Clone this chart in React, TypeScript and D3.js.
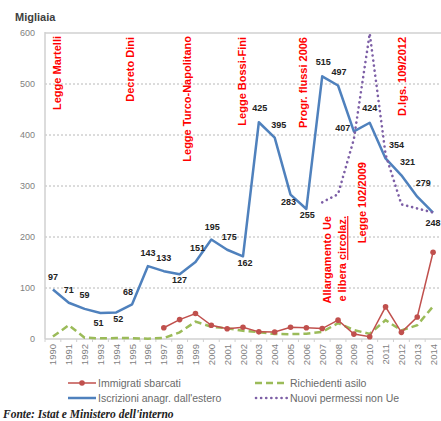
import React from "react";
import * as d3 from "d3";

const years = d3.range(1990, 2015).map(String);
const iscrizioni = [97, 71, 59, 51, 52, 68, 143, 133, 127, 151, 195, 175, 162, 425, 395, 283, 255, 515, 497, 407, 424, 354, 321, 279, 248];
const sbarcati: (number | null)[] = [null, null, null, null, null, null, null, 22, 38, 50, 27, 20, 23, 14, 13.6, 23, 22, 20.5, 37, 9.6, 4.4, 63, 13, 43, 170];
const asilo = [4.7, 27, 2.6, 1.3, 1.8, 1.7, 0.7, 1.9, 13, 34, 24, 21, 16, 13.5, 9.7, 9.5, 10.3, 14, 31, 17.6, 10, 37, 17, 27, 64];
const permessi: (number | null)[] = [null, null, null, null, null, null, null, null, null, null, null, null, null, null, null, null, null, 268, 284, 392, 599, 362, 264, 256, 248];
const yTicks = [0, 100, 200, 300, 400, 500, 600];

// label offsets (dx, dy of label centre relative to point)
const labelOffsets: [number, number][] = [
  [0, -13], [0, -13], [0, -14], [-2, 10], [2, 7], [-4, -12], [0, -13], [0, -13], [0, 6], [2, -14],
  [1, -13], [2, -13], [2, 7], [1, -14], [4, -13], [-2, 7], [1, 6], [1, -14], [1, -14], [-11, -3],
  [0, -15], [11, -13], [6, -13], [6, -14], [0, 10],
];

const annotations = [
  { year: "1990", lines: ["Legge Martelli"], top: 36, dx: 8 },
  { year: "1995", lines: ["Decreto Dini"], top: 37, dx: 2 },
  { year: "1998", lines: ["Legge Turco-Napolitano"], top: 36, dx: 11 },
  { year: "2002", lines: ["Legge Bossi-Fini"], top: 37, dx: 3 },
  { year: "2006", lines: ["Progr. flussi 2006"], top: 37, dx: 1 },
  { year: "2007", lines: ["Allargamento Ue", "e libera circolaz."], top: 216, dx: 9 },
  { year: "2009", lines: ["Legge 102/2009"], top: 162, dx: 12 },
  { year: "2012", lines: ["D.lgs. 109/2012"], top: 37, dx: 5 },
];

const W = 441, H = 421;
const left = 45, right = 441, top = 33, bottom = 339;

export default function App() {
  const x = d3.scaleBand<string>().domain(years).range([left, right]).padding(0);
  const cx = (y: string) => (x(y) as number) + x.bandwidth() / 2;
  const y = d3.scaleLinear().domain([0, 600]).range([bottom, top]);

  const lineGen = d3.line<number | null>()
    .defined((d) => d !== null)
    .x((_, i) => cx(years[i]))
    .y((d) => y(d as number));

  const grey = "#7f7f7f";
  const red = "#c0504d";
  const green = "#9bbb59";
  const blue = "#4f81bd";
  const purple = "#7d5fa6";

  return (
    <svg width={W} height={H} style={{ position: "absolute", left: 0, top: 0, background: "#fff" }} fontFamily="Liberation Sans, Arial, sans-serif">
      <text x={15} y={21} fontSize={11} fontWeight="bold" fill="#404040">Migliaia</text>
      {/* grid */}
      {yTicks.map((t) => (
        <g key={t}>
          {t > 0 && (
            <line x1={left} x2={right} y1={y(t)} y2={y(t)} stroke={t === 600 ? "#d0d0d0" : "#b8b8b8"} strokeWidth={t === 600 ? 1.5 : 1} strokeDasharray={t === 600 ? undefined : "2,2"} />
          )}
          <text x={35} y={y(t) + 3} fontSize={9} fill={grey} textAnchor="end">{t}</text>
        </g>
      ))}
      <line x1={left} x2={left} y1={top - 1} y2={bottom} stroke="#d0d0d0" strokeWidth={1.5} />
      <line x1={left} x2={right} y1={bottom} y2={bottom} stroke="#d0d0d0" strokeWidth={1.5} />
      {years.map((yr) => (
        <line key={"t" + yr} x1={x(yr) as number} x2={x(yr) as number} y1={bottom} y2={bottom + 3} stroke="#d0d0d0" />
      ))}
      {years.map((yr) => (
        <text key={"l" + yr} transform={`translate(${cx(yr) + 3.5},${bottom + 5}) rotate(-90)`} fontSize={9.5} fill={grey} textAnchor="end">{yr}</text>
      ))}
      {/* annotations */}
      {annotations.map((a) => (
        <g key={a.year + a.lines[0]}>
          {a.lines.map((ln, i) => (
            <text key={ln} transform={`translate(${cx(a.year) + a.dx + i * 15},${a.top}) rotate(-90)`} fontSize={11} fontWeight="bold" fill="#ff0000" textAnchor="end">
              {ln.includes("circolaz.") ? (
                <>
                  {"e libera "}
                  <tspan textDecoration="underline">circolaz.</tspan>
                </>
              ) : ln}
            </text>
          ))}
        </g>
      ))}
      {/* series */}
      <path d={lineGen(asilo) || ""} fill="none" stroke={green} strokeWidth={2.5} strokeDasharray="7,4" />
      <path d={lineGen(sbarcati) || ""} fill="none" stroke={red} strokeWidth={1.5} />
      {sbarcati.map((v, i) => v === null ? null : (
        <circle key={"m" + i} cx={cx(years[i])} cy={y(v)} r={2.8} fill={red} />
      ))}
      <path d={lineGen(iscrizioni) || ""} fill="none" stroke={blue} strokeWidth={2.5} strokeLinejoin="round" />
      <path d={lineGen(permessi) || ""} fill="none" stroke={purple} strokeWidth={2.6} strokeDasharray="0.1,5" strokeLinecap="round" />
      {iscrizioni.map((v, i) => (
        <text key={"v" + i} x={cx(years[i]) + labelOffsets[i][0]} y={y(v) + labelOffsets[i][1] + 3} fontSize={9} fontWeight="bold" fill="#222" textAnchor="middle">{v}</text>
      ))}
      {/* legend */}
      <g fontSize={10.5} fill="#6a6a6a">
        <line x1={68} x2={96} y1={383} y2={383} stroke={red} strokeWidth={1.5} />
        <circle cx={82} cy={383} r={2.8} fill={red} />
        <text x={98} y={386.5}>Immigrati sbarcati</text>
        <line x1={68} x2={96} y1={398} y2={398} stroke={blue} strokeWidth={2.5} />
        <text x={98} y={401.5}>Iscrizioni anagr. dall'estero</text>
        <line x1={255} x2={288} y1={383} y2={383} stroke={green} strokeWidth={2.5} strokeDasharray="7,4" />
        <text x={290} y={386.5}>Richiedenti asilo</text>
        <line x1={256} x2={288} y1={398} y2={398} stroke={purple} strokeWidth={2.6} strokeDasharray="0.1,5" strokeLinecap="round" />
        <text x={290} y={401.5}>Nuovi permessi non Ue</text>
      </g>
      <text x={3} y={418} fontSize={11.5} fontStyle="italic" fontWeight="bold" fontFamily="Liberation Serif, Times New Roman, serif" fill="#222">Fonte: Istat e Ministero dell'interno</text>
    </svg>
  );
}
